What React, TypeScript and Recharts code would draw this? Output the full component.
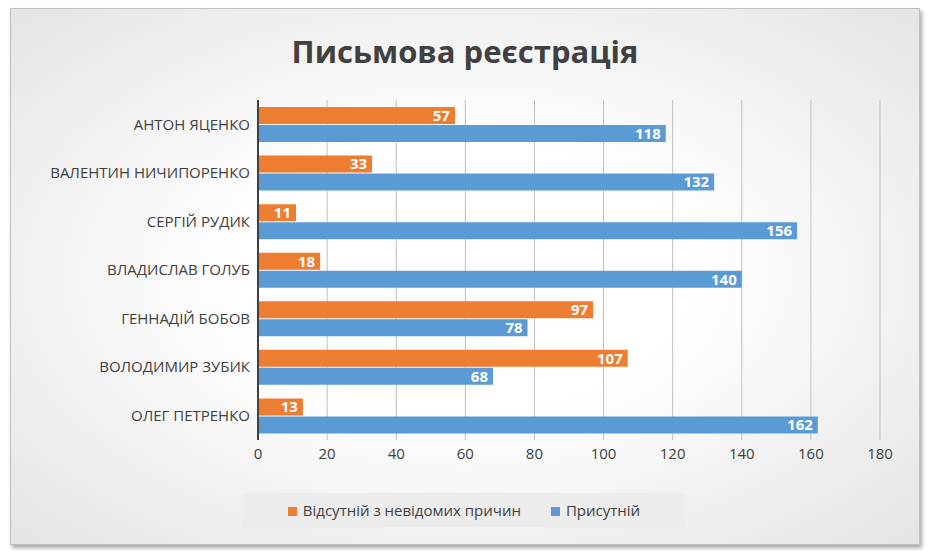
import { Bar, BarChart, CartesianGrid, LabelList, XAxis, YAxis } from 'recharts'

const names = [
  'АНТОН ЯЦЕНКО',
  'ВАЛЕНТИН НИЧИПОРЕНКО',
  'СЕРГІЙ РУДИК',
  'ВЛАДИСЛАВ ГОЛУБ',
  'ГЕННАДІЙ БОБОВ',
  'ВОЛОДИМИР ЗУБИК',
  'ОЛЕГ ПЕТРЕНКО',
]
const absent = [57, 33, 11, 18, 97, 107, 13]
const present = [118, 132, 156, 140, 78, 68, 162]
const ticks = [0, 20, 40, 60, 80, 100, 120, 140, 160, 180]

const data = names.map((name, i) => ({ name, absent: absent[i], present: present[i] }))

const font = '"Open Sans", sans-serif'

export default function App() {
  return (
    <div style={{ position: 'absolute', left: 0, top: 0, width: 930, height: 551, background: '#fff', fontFamily: font }}>
      <div
        style={{
          position: 'absolute', left: 10, top: 8, width: 908, height: 535,
          border: '1px solid #bfbfbf', boxShadow: '2px 3px 4px rgba(0,0,0,0.35)',
          background: 'radial-gradient(ellipse at center, #ffffff 35%, #e4e4e4 100%)',
        }}
      />
      <div style={{ position: 'absolute', left: 0, top: 30, width: 930, textAlign: 'center', fontSize: 31, fontWeight: 'bold', color: '#404040' }}>
        Письмова реєстрація
      </div>
      <div style={{ position: 'absolute', left: 0, top: 0 }}>
        <BarChart width={930} height={551} data={data} layout='vertical'
          margin={{ top: 100, bottom: 81, left: 18, right: 50 }} barGap={1} barSize={17}>
          <CartesianGrid horizontal={false} stroke='#bfbfbf' />
          <XAxis type='number' domain={[0, 180]} ticks={ticks} axisLine={false} tickLine={false}
            height={30} tick={{ fill: '#404040', fontSize: 15, fontFamily: font }} />
          <YAxis type='category' dataKey='name' width={240} tickLine={false} axisLine={{ stroke: '#404040', strokeWidth: 2 }}
            tick={{ fill: '#404040', fontSize: 15, fontFamily: font }} />
          <Bar dataKey='absent' fill='#ED7D31' isAnimationActive={false}>
            <LabelList dataKey='absent' position='insideRight' fill='#fff' fontWeight='bold' fontSize={15} fontFamily={font} />
          </Bar>
          <Bar dataKey='present' fill='#5B9BD5' isAnimationActive={false}>
            <LabelList dataKey='present' position='insideRight' fill='#fff' fontWeight='bold' fontSize={15} fontFamily={font} />
          </Bar>
        </BarChart>
      </div>
      <div style={{ position: 'absolute', left: 243, top: 493, width: 442, height: 34, background: '#ececec', display: 'flex', alignItems: 'center', justifyContent: 'center', gap: 30, fontSize: 15, color: '#404040' }}>
        <span><span style={{ display: 'inline-block', width: 9, height: 9, background: '#ED7D31', marginRight: 6 }} />Відсутній з невідомих причин</span>
        <span><span style={{ display: 'inline-block', width: 9, height: 9, background: '#5B9BD5', marginRight: 6 }} />Присутній</span>
      </div>
    </div>
  )
}
